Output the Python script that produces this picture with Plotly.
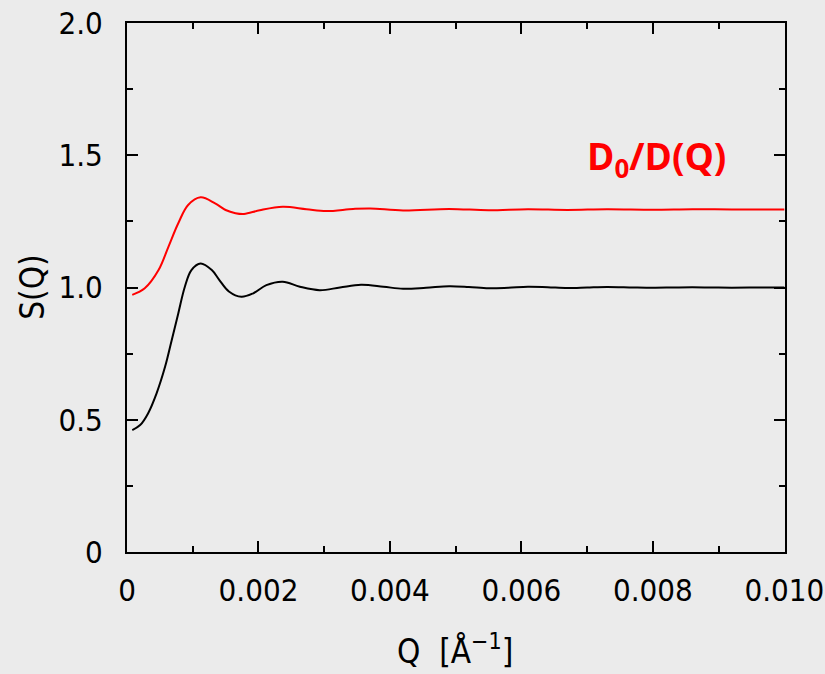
import plotly.graph_objects as go

# Q values [1/Å] and S(Q) (black)
q_s = [0.00008, 0.0002, 0.00032, 0.00045, 0.00058, 0.00068, 0.00078, 0.00088, 0.00098,
       0.00112, 0.00129, 0.0014, 0.00155, 0.00174, 0.00192, 0.00212, 0.00237, 0.00263,
       0.00293, 0.00324, 0.00356, 0.0039, 0.0042, 0.00455, 0.0049, 0.0052, 0.0055, 0.0058,
       0.0061, 0.0064, 0.0067, 0.0070, 0.0073, 0.0077, 0.0080, 0.0083, 0.0086, 0.0089,
       0.0092, 0.0096, 0.0100]
s_q = [0.461, 0.480, 0.524, 0.600, 0.701, 0.801, 0.902, 1.003, 1.066,
       1.091, 1.066, 1.03, 0.985, 0.965, 0.978, 1.009, 1.022, 1.003,
       0.99, 1.0, 1.01, 1.003, 0.995, 0.999, 1.005, 1.002, 0.997, 0.999,
       1.003, 1.001, 0.998, 1.0, 1.002, 1.0, 0.999, 1.0, 1.001, 1.0,
       0.9995, 1.0, 1.0]

# D0/D(Q) (red)
q_d = [0.00008, 0.00027, 0.00048, 0.00063, 0.00078, 0.00093, 0.00112, 0.00134, 0.0015,
       0.00165, 0.00178, 0.00202, 0.00237, 0.00273, 0.00303, 0.00344, 0.0037, 0.0042,
       0.0049, 0.0055, 0.0061, 0.0067, 0.0073, 0.0080, 0.0086, 0.0092, 0.0100]
d_q = [0.972, 0.997, 1.066, 1.154, 1.243, 1.312, 1.341, 1.318, 1.293,
       1.281, 1.278, 1.292, 1.305, 1.296, 1.289, 1.297, 1.299, 1.291,
       1.297, 1.292, 1.296, 1.293, 1.296, 1.294, 1.296, 1.295, 1.295]

x_tickvals = [0, 0.002, 0.004, 0.006, 0.008, 0.010]
x_ticktext = ["0", "0.002", "0.004", "0.006", "0.008", "0.010"]
y_tickvals = [0, 0.5, 1.0, 1.5, 2.0]
y_ticktext = ["0", "0.5", "1.0", "1.5", "2.0"]

BG = "#EBEBEB"
FONT = "Liberation Sans Narrow, DejaVu Sans Condensed, sans-serif"
FS = 31

fig = go.Figure()
fig.add_trace(go.Scatter(x=q_s, y=s_q, mode="lines", line=dict(color="black", width=2, shape="spline"),
                         showlegend=False, cliponaxis=False))
fig.add_trace(go.Scatter(x=q_d, y=d_q, mode="lines", line=dict(color="red", width=2, shape="spline"),
                         showlegend=False, cliponaxis=False))

axis_common = dict(showline=True, linecolor="black", linewidth=2, mirror="ticks",
                   ticks="inside", tickcolor="black", tickwidth=2, ticklen=11,
                   showgrid=False, zeroline=False, automargin=False,
                   tickfont=dict(family=FONT, size=FS, color="black"))

fig.update_xaxes(range=[-1e-8, 0.01001], tickvals=x_tickvals, ticktext=x_ticktext,
                 minor=dict(tickvals=[0.001, 0.003, 0.005, 0.007, 0.009], ticks="inside",
                            ticklen=6, tickwidth=2, tickcolor="black"),
                 ticklabelstandoff=10,
                 **axis_common)
fig.update_yaxes(range=[0, 2.0], tickvals=y_tickvals, ticktext=y_ticktext,
                 minor=dict(tickvals=[0.25, 0.75, 1.25, 1.75], ticks="inside",
                            ticklen=6, tickwidth=2, tickcolor="black"),
                 ticklabelstandoff=16,
                 **axis_common)

# axis titles
fig.add_annotation(x=0.498, y=-0.185, xref="paper", yref="paper", showarrow=False,
                   xanchor="center", yanchor="middle",
                   text="Q  [Å<sup>−1</sup>]", font=dict(family=FONT, size=FS + 2, color="black"))
fig.add_annotation(x=-0.144, y=0.5, xref="paper", yref="paper", showarrow=False, textangle=-90,
                   xanchor="center", yanchor="middle",
                   text="S(Q)", font=dict(family=FONT, size=FS + 2, color="black"))

fig.add_annotation(x=0.00805, y=1.49, xref="x", yref="y", showarrow=False,
                   xanchor="center", yanchor="middle",
                   text="<b>D<sub>0</sub>/D(Q)</b>",
                   font=dict(family="Open Sans, sans-serif", size=37, color="red"))

fig.update_layout(width=825, height=674, paper_bgcolor=BG, plot_bgcolor=BG,
                  margin=dict(l=127, r=40, t=23, b=122))

fig.write_html("out.html", config={"displayModeBar": False},
               post_script="document.body.style.margin='0';document.body.style.overflow='hidden';")
